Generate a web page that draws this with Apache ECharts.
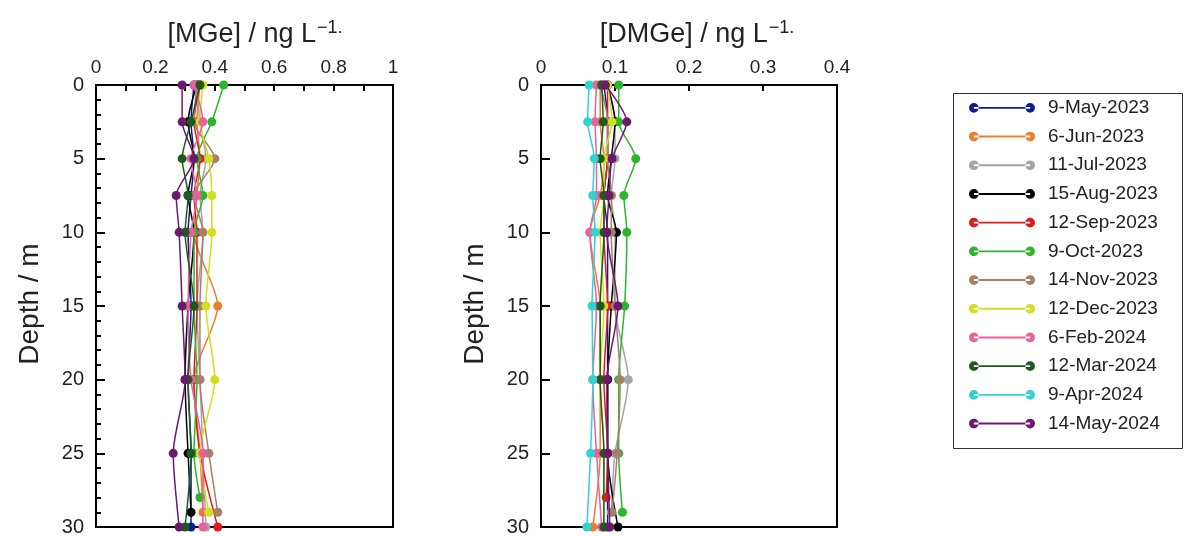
<!DOCTYPE html>
<html><head><meta charset="utf-8">
<script src="https://cdn.jsdelivr.net/npm/echarts@6/dist/echarts.min.js"></script>
<style>html,body{margin:0;padding:0;background:#fff}#c{width:1184px;height:537px}</style>
</head><body><div id="c"></div>
<script>
// ---- data ----
const seriesNames = ['9-May-2023','6-Jun-2023','11-Jul-2023','15-Aug-2023','12-Sep-2023','9-Oct-2023','14-Nov-2023','12-Dec-2023','6-Feb-2024','12-Mar-2024','9-Apr-2024','14-May-2024'];
const seriesColors = ['#0B1E8C','#ED7D31','#A5A5A5','#000000','#E0191C','#2DB52D','#A67F6A','#D2DE1E','#E8619A','#1E5A1E','#2ED3D3','#6B1A6B'];
const depths = [0, 2.5, 5, 7.5, 10, 15, 20, 25];
const mgeBottomDepth  = [30, 29, 30, 29, 30, 28, 29, 29, 30, 30, 30, 30];
const dmgeBottomDepth = [30, 30, 29, 30, 28, 29, 29, 30, 30, 30, 30, 30];
// MGe (ng/L) at depths 0,2.5,5,7.5,10,15,20,25,bottom
const mgeValues = [
  [0.33,0.32,0.33,0.32,0.31,0.32,0.31,0.32,0.32],
  [0.35,0.34,0.35,0.34,0.33,0.41,0.33,0.35,0.36],
  [0.34,0.35,0.37,0.35,0.36,0.34,0.35,0.36,0.37],
  [0.34,0.31,0.33,0.31,0.33,0.31,0.30,0.31,0.32],
  [0.35,0.33,0.35,0.33,0.34,0.34,0.33,0.35,0.41],
  [0.43,0.39,0.34,0.36,0.33,0.33,0.34,0.33,0.35],
  [0.34,0.33,0.40,0.33,0.36,0.35,0.35,0.38,0.41],
  [0.36,0.35,0.38,0.39,0.39,0.37,0.40,0.35,0.38],
  [0.33,0.36,0.32,0.34,0.32,0.31,0.32,0.36,0.36],
  [0.35,0.32,0.29,0.31,0.30,0.33,0.31,0.32,0.30],
  [],
  [0.29,0.29,0.33,0.27,0.28,0.29,0.30,0.26,0.28]
];
// DMGe (ng/L)
const dmgeValues = [
  [0.085,0.090,0.090,0.085,0.090,0.090,0.090,0.090,0.090],
  [0.080,0.080,0.085,0.080,0.066,0.080,0.080,0.080,0.070],
  [0.090,0.100,0.100,0.095,0.100,0.100,0.118,0.100,0.095],
  [0.090,0.100,0.095,0.090,0.102,0.095,0.090,0.090,0.104],
  [0.090,0.090,0.090,0.085,0.085,0.090,0.085,0.090,0.088],
  [0.105,0.105,0.128,0.112,0.116,0.113,0.105,0.105,0.110],
  [0.080,0.090,0.090,0.095,0.095,0.100,0.107,0.103,0.096],
  [0.090,0.096,0.085,0.085,0.080,0.085,0.080,0.085,0.085],
  [0.075,0.073,0.075,0.075,0.066,0.075,0.070,0.075,0.082],
  [0.082,0.084,0.080,0.085,0.085,0.080,0.080,0.085,0.085],
  [0.065,0.063,0.072,0.070,0.073,0.069,0.070,0.067,0.062],
  [0.087,0.116,0.096,0.092,0.089,0.104,0.089,0.090,0.093]
];
const mgeTicks = [0, 1, 0.2];
const dmgeTicks = [0, 0.4, 0.1];
const depthTicks = [0, 30, 5];

// ---- chart ----
const FONT = "'Liberation Sans',Arial,sans-serif";
const chart = echarts.init(document.getElementById('c'), null, {renderer:'canvas'});
function pts(vals, bottom){
  if(!vals.length) return [];
  const ds = depths.concat([bottom]);
  return vals.map((v,i)=>[v, ds[i]]);
}
const series = [];
seriesNames.forEach((n,i)=>{
  const common = {name:n, type:'line', smooth:0.25, symbol:'circle', symbolSize:9,
    itemStyle:{color:seriesColors[i]}, lineStyle:{width:1.5, color:seriesColors[i]}, z: 2+i};
  series.push(Object.assign({}, common, {xAxisIndex:0, yAxisIndex:0, data:pts(mgeValues[i], mgeBottomDepth[i])}));
  series.push(Object.assign({}, common, {xAxisIndex:1, yAxisIndex:1, data:pts(dmgeValues[i], dmgeBottomDepth[i])}));
});
function xAx(gi, t, minorSplit){
  return {gridIndex:gi, type:'value', position:'top', min:t[0], max:t[1], interval:t[2],
    axisLine:{show:true, onZero:false, lineStyle:{color:'#000', width:2}},
    axisTick:{show:true, inside:true, length:6, lineStyle:{color:'#000', width:2}},
    minorTick:{show:minorSplit>0, splitNumber:minorSplit||2, length:6, lineStyle:{color:'#000', width:2}},
    axisLabel:{color:'#222', fontSize:19, fontFamily:FONT, margin:8,
      formatter:v=>String(+v.toFixed(2))},
    splitLine:{show:false}};
}
function yAx(gi, minor){
  return {gridIndex:gi, type:'value', inverse:true, min:depthTicks[0], max:depthTicks[1], interval:depthTicks[2],
    axisLine:{show:true, onZero:false, lineStyle:{color:'#000', width:2}},
    axisTick:{show:true, inside:true, length:9, lineStyle:{color:'#000', width:2}},
    minorTick:{show:minor, splitNumber:5, length:5, lineStyle:{color:'#000', width:2}},
    axisLabel:{color:'#222', fontSize:20, fontFamily:FONT, margin:12},
    splitLine:{show:false}};
}
const legendIcon = 'path://M0,5a5,5 0 1,0 10,0a5,5 0 1,0 -10,0Z M58,5a5,5 0 1,0 10,0a5,5 0 1,0 -10,0Z M5,4H63V6H5Z';
chart.setOption({
  animation:false,
  backgroundColor:'#fff',
  grid:[
    {left:96, top:85, width:297, height:443, show:true, borderColor:'#000', borderWidth:2, backgroundColor:'transparent'},
    {left:541, top:85, width:296, height:443, show:true, borderColor:'#000', borderWidth:2, backgroundColor:'transparent'}
  ],
  xAxis:[xAx(0, mgeTicks, 2), xAx(1, dmgeTicks, 0)],
  yAxis:[yAx(0, true), yAx(1, false)],
  title:[
    {text:'[MGe] / ng L{s|−1.}', left:250, top:14, textAlign:'center',
      textStyle:{fontFamily:FONT, fontSize:27, fontWeight:'normal', color:'#222', rich:{s:{fontSize:18, fontFamily:FONT, color:'#222', verticalAlign:'top', padding:[0,0,14,1]}}}},
    {text:'[DMGe] / ng L{s|−1.}', left:692, top:14, textAlign:'center',
      textStyle:{fontFamily:FONT, fontSize:27, fontWeight:'normal', color:'#222', rich:{s:{fontSize:18, fontFamily:FONT, color:'#222', verticalAlign:'top', padding:[0,0,14,1]}}}}
  ],
  graphic:[
    {type:'text', x:30, y:304, rotation:Math.PI/2, style:{text:'Depth / m', font:'28px '+FONT, fill:'#222', textAlign:'center', textVerticalAlign:'middle'}},
    {type:'text', x:475, y:304, rotation:Math.PI/2, style:{text:'Depth / m', font:'28px '+FONT, fill:'#222', textAlign:'center', textVerticalAlign:'middle'}},
    {type:'rect', shape:{x:953.5, y:93.5, width:229, height:355}, style:{fill:'none', stroke:'#333', lineWidth:1}, z:-1}
  ],
  legend:{orient:'vertical', left:964, top:93, itemWidth:66, itemHeight:10, itemGap:9,
    icon:legendIcon, data:seriesNames,
    textStyle:{fontFamily:FONT, fontSize:19, lineHeight:19.7, color:'#222', padding:[0,0,0,8]}},
  series: series
});
</script></body></html>
